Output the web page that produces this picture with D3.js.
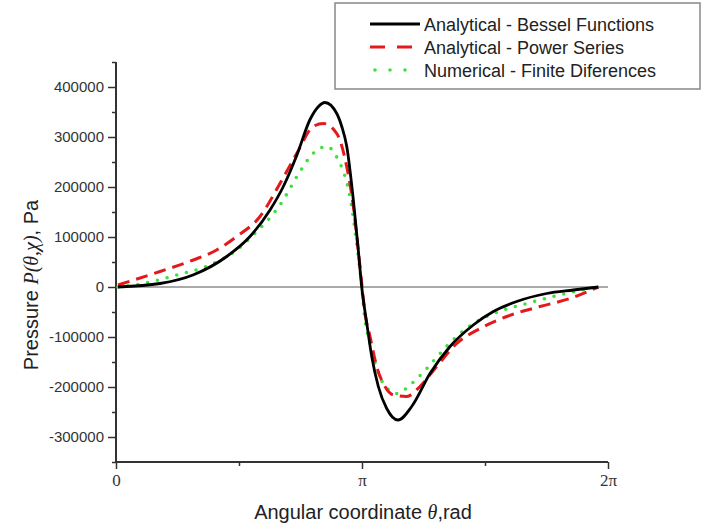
<!DOCTYPE html>
<html><head><meta charset="utf-8">
<script src="https://cdn.jsdelivr.net/npm/d3@7"></script>
<style>body{margin:0;background:#fff}svg{display:block}</style>
</head><body>
<script>
// theta in radians, pressure in Pa
const besselTheta = [0.026,0.562,0.983,1.414,1.711,1.967,2.137,2.308,2.478,2.580,2.669,2.819,2.883,2.947,3.031,3.094,3.138,3.202,3.266,3.350,3.457,3.601,3.776,4.010,4.266,4.563,4.819,5.117,5.500,5.840,6.160];
const besselP     = [0,7000,24000,61000,101000,154000,201000,263000,335000,360000,369000,347000,321000,281000,174000,74000,0,-72000,-139000,-199000,-243000,-266000,-239000,-173000,-119000,-76000,-49000,-29000,-13000,-6000,0];
const powerTheta = [0.026,0.562,0.987,1.286,1.541,1.839,2.094,2.308,2.520,2.648,2.819,2.946,3.031,3.094,3.146,3.180,3.244,3.329,3.435,3.541,3.713,3.882,4.096,4.351,4.649,4.990,5.415,5.798,6.160];
const powerP     = [4000,31000,54000,74000,101000,141000,207000,267000,321000,327000,307000,241000,161000,74000,-5000,-53000,-99000,-159000,-199000,-216000,-219000,-199000,-159000,-113000,-83000,-59000,-39000,-23000,0];
const fdTheta = [0.026,0.349,0.775,1.200,1.541,1.753,2.094,2.350,2.499,2.691,2.839,2.925,2.988,3.052,3.138,3.180,3.244,3.329,3.414,3.585,3.776,3.968,4.138,4.351,4.607,4.946,5.245,5.585,5.884,6.139];
const fdP     = [0,7000,24000,44000,74000,104000,164000,231000,264000,281000,254000,221000,181000,114000,0,-66000,-113000,-163000,-193000,-213000,-193000,-163000,-133000,-99000,-69000,-46000,-33000,-19000,-8000,0];
const seriesNames = ["Analytical - Bessel Functions","Analytical - Power Series","Numerical - Finite Diferences"];
const yTicks = [-300000,-200000,-100000,0,100000,200000,300000,400000];
const yMinorTicks = [-350000,-250000,-150000,-50000,50000,150000,250000,350000,450000];
const xTicks = [0, Math.PI, 2*Math.PI];
const xTickLabels = ["0","π","2π"];
const xMinorTicks = [Math.PI/2, 3*Math.PI/2];

const W=706,H=526;
const svg=d3.select("body").append("svg").attr("width",W).attr("height",H);
const x=d3.scaleLinear().domain([0,2*Math.PI]).range([116,608]);
const y=d3.scaleLinear().domain([-350000,450000]).range([462,62]);
const axisColor="#333";

// zero line
svg.append("line").attr("x1",x(0)).attr("x2",x(2*Math.PI)).attr("y1",y(0)).attr("y2",y(0))
  .attr("stroke","#555").attr("stroke-width",1);

// y axis
const ya=svg.append("g").attr("transform",`translate(${x(0)},0)`)
  .call(d3.axisLeft(y).tickValues(yTicks).tickSize(8).tickPadding(4).tickFormat(d=>String(d)));
ya.select(".domain").remove();
ya.selectAll("line").attr("stroke",axisColor).attr("stroke-width",1.5);
ya.selectAll("text").attr("font-family","Liberation Sans, Arial, sans-serif").attr("font-size",15).attr("fill","#333");
const ym=svg.append("g").attr("transform",`translate(${x(0)},0)`)
  .call(d3.axisLeft(y).tickValues(yMinorTicks).tickSize(4).tickFormat(""));
ym.select(".domain").remove();
ym.selectAll("line").attr("stroke",axisColor).attr("stroke-width",1.5);
svg.append("line").attr("x1",x(0)).attr("x2",x(0)).attr("y1",y(450000)).attr("y2",y(-350000))
  .attr("stroke",axisColor).attr("stroke-width",2);

// x axis
const xa=svg.append("g").attr("transform",`translate(0,${y(-350000)})`)
  .call(d3.axisBottom(x).tickValues(xTicks).tickSize(7).tickPadding(5).tickFormat((d,i)=>xTickLabels[i]));
xa.select(".domain").remove();
xa.selectAll("line").attr("stroke",axisColor).attr("stroke-width",1.5);
xa.selectAll("text").attr("font-family","Liberation Serif, Times New Roman, serif").attr("font-size",17).attr("fill","#333");
const xm=svg.append("g").attr("transform",`translate(0,${y(-350000)})`)
  .call(d3.axisBottom(x).tickValues(xMinorTicks).tickSize(4).tickFormat(""));
xm.select(".domain").remove();
xm.selectAll("line").attr("stroke",axisColor).attr("stroke-width",1.5);
svg.append("line").attr("x1",x(0)).attr("x2",x(2*Math.PI)).attr("y1",y(-350000)).attr("y2",y(-350000))
  .attr("stroke",axisColor).attr("stroke-width",2);

// series
const line=d3.line().x(d=>x(d[0])).y(d=>y(d[1])).curve(d3.curveMonotoneX);
const series=[
  {name:seriesNames[0],data:d3.zip(besselTheta,besselP),color:"#000",width:2.8,dash:null,cap:"butt",ldash:null},
  {name:seriesNames[1],data:d3.zip(powerTheta,powerP),color:"#e3191c",width:3,dash:"12 7",cap:"butt",ldash:"15 12"},
  {name:seriesNames[2],data:d3.zip(fdTheta,fdP),color:"#3ee03e",width:3.6,dash:"0 10",cap:"round",ldash:"0 15"}
];
[series[2],series[1],series[0]].forEach(s=>{
  svg.append("path").datum(s.data).attr("d",line).attr("fill","none")
    .attr("stroke",s.color).attr("stroke-width",s.width).attr("stroke-dasharray",s.dash)
    .attr("stroke-linecap",s.cap).attr("stroke-linejoin","round");
});

// axis titles
const xt=svg.append("text").attr("x",363).attr("y",519).attr("text-anchor","middle")
  .attr("font-family","Liberation Sans, Arial, sans-serif").attr("font-size",20).attr("fill","#222");
xt.append("tspan").text("Angular coordinate ");
xt.append("tspan").attr("font-family","Liberation Serif, serif").attr("font-style","italic").text("θ");
xt.append("tspan").text(",rad");

const yt=svg.append("text").attr("transform","translate(38,285) rotate(-90)").attr("text-anchor","middle")
  .attr("font-family","Liberation Sans, Arial, sans-serif").attr("font-size",20).attr("fill","#222");
yt.append("tspan").text("Pressure ");
yt.append("tspan").attr("font-family","Liberation Serif, serif").attr("font-style","italic").text("P(θ,χ)");
yt.append("tspan").text(", Pa");

// legend
const lg=svg.append("g");
lg.append("rect").attr("x",335).attr("y",3).attr("width",365).attr("height",86)
  .attr("fill","#fff").attr("stroke","#888").attr("stroke-width",1.5);
const lx=[[370,420],[370,412],[375,406]];
series.forEach((s,i)=>{
  const yy=24+i*23;
  lg.append("line").attr("x1",lx[i][0]).attr("x2",lx[i][1]).attr("y1",yy).attr("y2",yy)
    .attr("stroke",s.color).attr("stroke-width",s.width).attr("stroke-dasharray",s.ldash)
    .attr("stroke-linecap",s.cap);
  lg.append("text").attr("x",424).attr("y",yy+6.5).text(s.name)
    .attr("font-family","Liberation Sans, Arial, sans-serif").attr("font-size",18).attr("fill","#222");
});
</script>
</body></html>
